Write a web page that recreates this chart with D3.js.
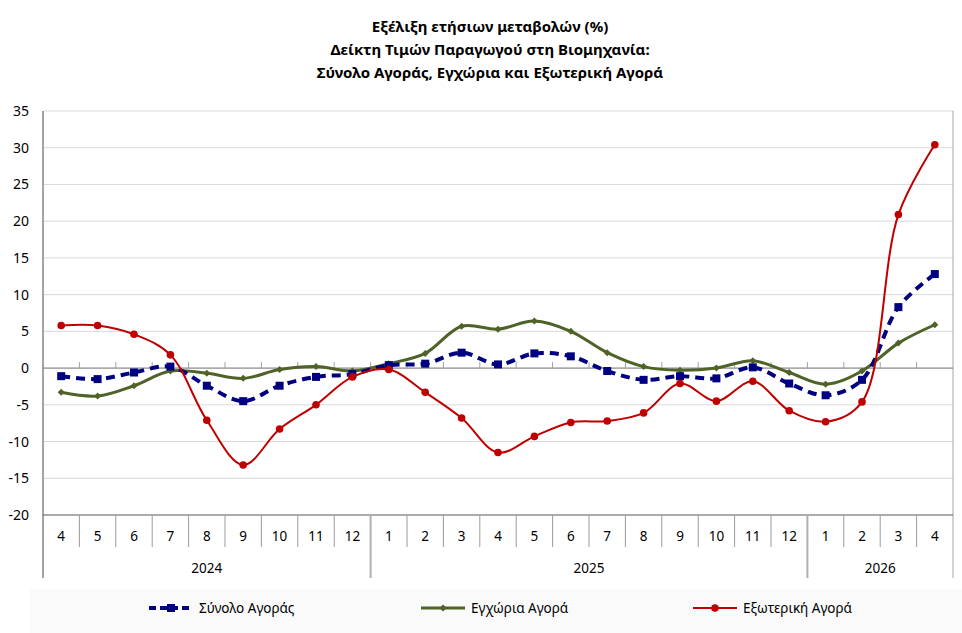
<!DOCTYPE html>
<html>
<head>
<meta charset="utf-8">
<script src="https://cdn.jsdelivr.net/npm/d3@7"></script>
<style>
  body { margin: 0; background: #fff; }
  text { font-family: "Noto Sans", "Open Sans", sans-serif; fill: #000; }
</style>
</head>
<body>
<div id="chart"></div>
<script>
//Chart values
var months = ["4","5","6","7","8","9","10","11","12","1","2","3","4","5","6","7","8","9","10","11","12","1","2","3","4"];
var years = [{label: "2024", from: 0, to: 9}, {label: "2025", from: 9, to: 21}, {label: "2026", from: 21, to: 25}];
var total = [-1.1,-1.5,-0.6,0.2,-2.4,-4.5,-2.4,-1.2,-0.8,0.4,0.6,2.1,0.5,2.0,1.6,-0.4,-1.6,-1.1,-1.4,0.1,-2.1,-3.7,-1.6,8.3,12.8];
var domestic = [-3.3,-3.8,-2.4,-0.4,-0.7,-1.4,-0.2,0.2,-0.4,0.6,2.0,5.7,5.3,6.4,5.0,2.1,0.2,-0.3,0.0,1.0,-0.6,-2.2,-0.4,3.4,5.9];
var foreign = [5.8,5.8,4.6,1.8,-7.1,-13.2,-8.3,-5.0,-1.2,-0.2,-3.3,-6.8,-11.5,-9.3,-7.4,-7.2,-6.1,-2.1,-4.5,-1.8,-5.8,-7.3,-4.6,20.9,30.4];
var yTicks = [35,30,25,20,15,10,5,0,-5,-10,-15,-20];
var titleLines = ["Εξέλιξη ετήσιων μεταβολών (%)", "Δείκτη Τιμών Παραγωγού στη Βιομηχανία:", "Σύνολο Αγοράς, Εγχώρια και Εξωτερική Αγορά"];

//Width and height
var w = 962;
var h = 633;
var plotLeft = 43, plotRight = 953, plotTop = 111, plotBottom = 515;

var svg = d3.select("#chart")
            .append("svg")
            .attr("width", w)
            .attr("height", h);

//Scales
var x = d3.scaleBand()
          .domain(d3.range(months.length))
          .range([plotLeft, plotRight])
          .padding(0);

var y = d3.scaleLinear()
          .domain([-20, 35])
          .range([plotBottom, plotTop]);

//Light band behind the legend
svg.append("rect")
   .attr("x", 30).attr("y", 589)
   .attr("width", w - 30).attr("height", h - 589)
   .attr("fill", "#fafafa");

//Title
svg.selectAll("text.title")
   .data(titleLines)
   .enter()
   .append("text")
   .attr("class", "title")
   .attr("x", 490)
   .attr("y", function(d, i) { return 32 + i * 23; })
   .attr("text-anchor", "middle")
   .style("font-size", "15px")
   .style("font-weight", "bold")
   .text(function(d) { return d; });

//Gridlines
svg.selectAll("line.grid")
   .data(yTicks.filter(function(d) { return d != 0 && d != -20; }))
   .enter()
   .append("line")
   .attr("x1", plotLeft).attr("x2", plotRight)
   .attr("y1", function(d) { return y(d); })
   .attr("y2", function(d) { return y(d); })
   .attr("stroke", "#d9d9d9")
   .attr("stroke-width", 1);

//Right border of plot area
svg.append("line")
   .attr("x1", plotRight).attr("x2", plotRight)
   .attr("y1", plotTop).attr("y2", 578)
   .attr("stroke", "#a6a6a6");

//Y axis
svg.append("line")
   .attr("x1", plotLeft).attr("x2", plotLeft)
   .attr("y1", plotTop).attr("y2", 578)
   .attr("stroke", "#868686")
   .attr("stroke-width", 1.5);

svg.selectAll("text.ylab")
   .data(yTicks)
   .enter()
   .append("text")
   .attr("class", "ylab")
   .attr("x", 29)
   .attr("y", function(d) { return y(d) + 5; })
   .attr("text-anchor", "end")
   .style("font-size", "14px")
   .text(function(d) { return d; });

//Bottom line of plot
svg.append("line")
   .attr("x1", plotLeft).attr("x2", plotRight)
   .attr("y1", plotBottom).attr("y2", plotBottom)
   .attr("stroke", "#595959");

//Zero line with ticks at category boundaries
svg.append("line")
   .attr("x1", plotLeft).attr("x2", plotRight)
   .attr("y1", y(0)).attr("y2", y(0))
   .attr("stroke", "#6e6e6e");

svg.selectAll("line.zt")
   .data(d3.range(1, months.length))
   .enter()
   .append("line")
   .attr("x1", function(d) { return x(d); })
   .attr("x2", function(d) { return x(d); })
   .attr("y1", y(0) - 6).attr("y2", y(0))
   .attr("stroke", "#a0a0a0");

//Category separators
var yearStarts = years.map(function(d) { return d.from; });
svg.selectAll("line.sep")
   .data(d3.range(1, months.length))
   .enter()
   .append("line")
   .attr("x1", function(d) { return x(d); })
   .attr("x2", function(d) { return x(d); })
   .attr("y1", plotBottom)
   .attr("y2", function(d) { return yearStarts.indexOf(d) >= 0 ? 578 : 547; })
   .attr("stroke", function(d) { return yearStarts.indexOf(d) >= 0 ? "#b0b0b0" : "#9a9a9a"; })
   .attr("stroke-width", function(d) { return yearStarts.indexOf(d) >= 0 ? 2 : 1; });

//Month labels
svg.selectAll("text.mlab")
   .data(months)
   .enter()
   .append("text")
   .attr("class", "mlab")
   .attr("x", function(d, i) { return x(i) + x.bandwidth() / 2; })
   .attr("y", 541)
   .attr("text-anchor", "middle")
   .style("font-size", "13.5px")
   .text(function(d) { return d; });

//Year labels
svg.selectAll("text.ylabel")
   .data(years)
   .enter()
   .append("text")
   .attr("class", "ylabel")
   .attr("x", function(d) { return (x(d.from) + (d.to < months.length ? x(d.to) : plotRight)) / 2; })
   .attr("y", 573)
   .attr("text-anchor", "middle")
   .style("font-size", "13.5px")
   .text(function(d) { return d.label; });

//Series
var series = [
  {name: "Σύνολο Αγοράς", values: total, color: "#000080", width: 4, dash: "9,6", marker: "square", lx: 149},
  {name: "Εγχώρια Αγορά", values: domestic, color: "#4f6228", width: 3, dash: null, marker: "diamond", lx: 421},
  {name: "Εξωτερική Αγορά", values: foreign, color: "#c00000", width: 2, dash: null, marker: "circle", lx: 693}
];

var line = d3.line()
             .x(function(d, i) { return x(i) + x.bandwidth() / 2; })
             .y(function(d) { return y(d); })
             .curve(d3.curveCatmullRom);

function drawMarker(g, type, color, cx, cy) {
  if (type == "square") {
    g.append("rect").attr("x", cx - 4).attr("y", cy - 4).attr("width", 8).attr("height", 8).attr("fill", color);
  } else if (type == "diamond") {
    g.append("path").attr("d", "M" + cx + "," + (cy - 3.5) + "L" + (cx + 3.5) + "," + cy + "L" + cx + "," + (cy + 3.5) + "L" + (cx - 3.5) + "," + cy + "Z").attr("fill", color);
  } else {
    g.append("circle").attr("cx", cx).attr("cy", cy).attr("r", 3.8).attr("fill", color);
  }
}

//Draw green, blue, then red like the reference
[1, 0, 2].forEach(function(k) {
  var s = series[k];
  var g = svg.append("g");
  g.append("path")
   .attr("d", line(s.values))
   .attr("fill", "none")
   .attr("stroke", s.color)
   .attr("stroke-width", s.width)
   .attr("stroke-dasharray", s.dash);
  s.values.forEach(function(v, i) {
    drawMarker(g, s.marker, s.color, x(i) + x.bandwidth() / 2, y(v));
  });
});

//Legend
var ly = 608;
series.forEach(function(s) {
  var g = svg.append("g");
  g.append("line")
   .attr("x1", s.lx).attr("x2", s.lx + 44)
   .attr("y1", ly).attr("y2", ly)
   .attr("stroke", s.color)
   .attr("stroke-width", s.width)
   .attr("stroke-dasharray", s.dash ? "7,4" : null);
  drawMarker(g, s.marker, s.color, s.lx + 22, ly);
  g.append("text")
   .attr("x", s.lx + 50)
   .attr("y", ly + 5)
   .style("font-size", "13.5px")
   .text(s.name);
});
</script>
</body>
</html>
